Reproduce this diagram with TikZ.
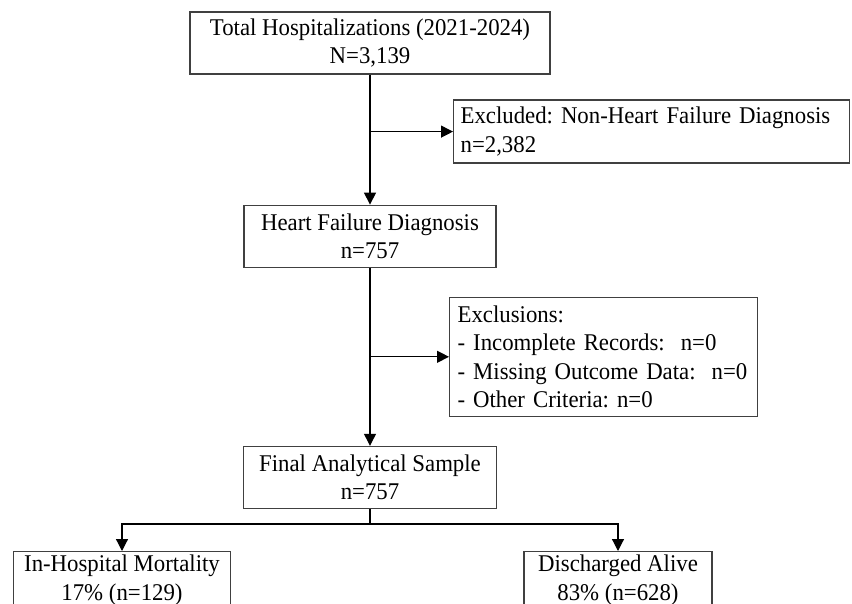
\documentclass[tikz,border=0pt]{standalone}
\usepackage{fontspec}
\setmainfont{Liberation Serif}[FakeStretch=0.95]
\usepackage{tikz}
\usetikzlibrary{positioning,arrows.meta,calc}

\begin{document}
\frenchspacing
\begin{tikzpicture}[
    x=1pt, y=1pt,
    font=\fontsize{24}{28.3}\selectfont,
    flow_box/.style={draw=black!75, line width=1.2pt, inner sep=0pt, minimum height=62pt, align=center},
    left_box/.style={flow_box, align=left, inner xsep=7pt, anchor=west},
    line/.style={line width=1.2pt, draw=black},
    arrow/.style={line, -{Triangle[length=12pt,width=12pt]}}
]
\useasboundingbox (0,0) rectangle (852,-604);

\node (total) [flow_box, minimum width=360pt] at (370,-43)
    {Total Hospitalizations (2021-2024)\\N=3,139};

\node (hf)    [flow_box, minimum width=252pt, below=130pt of total]
    {Heart Failure Diagnosis\\n=757};

\node (final) [flow_box, minimum width=253pt, below=178pt of hf]
    {Final Analytical Sample\\n=757};

\node (nonhf) [left_box, text width=382pt, minimum height=63pt] at ($(total.south)+(83,-57)$)
    {Excluded: Non-Heart Failure Diagnosis\\n=2,382};

\node (exclu) [left_box, inner xsep=8pt, text width=292pt, minimum height=119pt] at ($(hf.south)+(79,-89)$)
    {Exclusions:\\- Incomplete Records:~ n=0\\- Missing Outcome Data:~ n=0\\- Other Criteria: n=0};

\node (dead)  [flow_box, anchor=north, minimum width=217pt, minimum height=57pt] at ($(final.south)+(-248,-42)$)
    {In-Hospital Mortality\\17\% (n=129)};

\node (alive) [flow_box, anchor=north, minimum width=188pt, minimum height=57pt] at ($(final.south)+(248,-42)$)
    {Discharged Alive\\83\% (n=628)};

\coordinate (split) at ($(final.south)+(0,-15)$);

\draw [arrow] (total) -- (hf);
\draw [arrow] (hf) -- (final);
\draw [arrow] (total.south |- nonhf.west) -- (nonhf.west);
\draw [arrow] (hf.south |- exclu.west) -- (exclu.west);
\draw [line]  (final.south) -- (split);
\draw [arrow] (split) -| (dead.north);
\draw [arrow] (split) -| (alive.north);

\end{tikzpicture}
\end{document}
